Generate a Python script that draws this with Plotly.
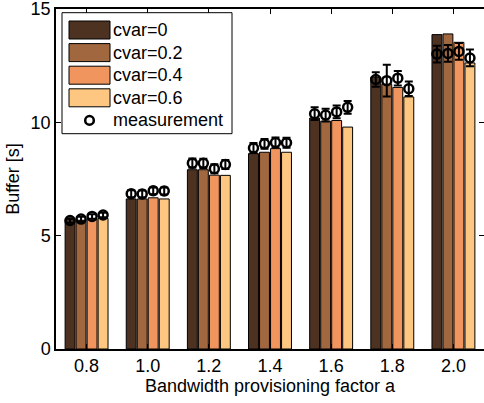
import plotly.graph_objects as go

categories = ["0.8", "1.0", "1.2", "1.4", "1.6", "1.8", "2.0"]
series_names = ["cvar=0", "cvar=0.2", "cvar=0.4", "cvar=0.6"]

model_cvar0 = [5.72, 6.62, 7.91, 8.62, 10.19, 12.00, 13.87]
model_cvar02 = [5.68, 6.62, 7.91, 8.68, 10.05, 11.68, 13.90]
model_cvar04 = [5.74, 6.67, 7.67, 8.84, 10.08, 11.54, 13.53]
model_cvar06 = [5.76, 6.62, 7.66, 8.68, 9.79, 11.12, 12.62]

meas_cvar0 = [5.67, 6.85, 8.20, 8.87, 10.38, 11.89, 13.01]
meas_cvar02 = [5.73, 6.84, 8.19, 9.05, 10.32, 11.84, 13.04]
meas_cvar04 = [5.85, 6.98, 7.95, 9.11, 10.46, 11.95, 13.13]
meas_cvar06 = [5.91, 6.97, 8.14, 9.10, 10.66, 11.48, 12.84]

err_cvar0 = [0.10, 0.15, 0.20, 0.22, 0.28, 0.32, 0.37]
err_cvar02 = [0.10, 0.15, 0.20, 0.22, 0.28, 0.70, 0.37]
err_cvar04 = [0.10, 0.15, 0.20, 0.22, 0.28, 0.32, 0.37]
err_cvar06 = [0.10, 0.15, 0.20, 0.22, 0.28, 0.32, 0.37]

colors = ["#4d3222", "#a1673f", "#f0955e", "#fec781"]

models = [model_cvar0, model_cvar02, model_cvar04, model_cvar06]
meas = [meas_cvar0, meas_cvar02, meas_cvar04, meas_cvar06]
errs = [err_cvar0, err_cvar02, err_cvar04, err_cvar06]

FONT = "Liberation Sans, Arial, Helvetica, sans-serif"

fig = go.Figure()
for i, name in enumerate(series_names):
    fig.add_trace(go.Bar(
        x=categories, y=models[i], name=name, offsetgroup=str(i),
        marker=dict(color=colors[i], line=dict(color="black", width=1)),
        showlegend=False,
    ))
for i, name in enumerate(series_names):
    fig.add_trace(go.Scatter(
        x=categories, y=meas[i], mode="markers", offsetgroup=str(i),
        marker=dict(symbol="circle-open", size=9, color="black",
                    line=dict(color="black", width=2.5)),
        error_y=dict(type="data", array=errs[i], visible=True,
                     color="black", thickness=2, width=4),
        showlegend=False, name="measurement", cliponaxis=False,
    ))

# plot-area geometry (pixels) used to place the hand-drawn legend
L, R, T, B = 56, 484, 9.3, 349.3
def dx(px):
    return (px - L) / (R - L)
def dy(py):
    return (B - py) / (B - T)

shapes = [dict(type="rect", xref="x domain", yref="y domain",
               x0=dx(62), x1=dx(232), y0=dy(134), y1=dy(13),
               line=dict(color="black", width=1), fillcolor="white", layer="above")]
annotations = []
row0, step = 30.3, 22.6
for i, name in enumerate(series_names):
    cy = row0 + step * i
    shapes.append(dict(type="rect", xref="x domain", yref="y domain",
                       x0=dx(69), x1=dx(110), y0=dy(cy + 9), y1=dy(cy - 9),
                       line=dict(color="black", width=1), fillcolor=colors[i], layer="above"))
    annotations.append(dict(xref="x domain", yref="y domain", x=dx(111), y=dy(cy),
                            text=name, showarrow=False, xanchor="left", yanchor="middle",
                            font=dict(size=18, color="black", family=FONT)))
cy = row0 + step * 4
shapes.append(dict(type="circle", xref="x domain", yref="y domain",
                   x0=dx(89.5 - 4.3), x1=dx(89.5 + 4.3), y0=dy(cy + 4.3), y1=dy(cy - 4.3),
                   line=dict(color="black", width=2.5), layer="above"))
annotations.append(dict(xref="x domain", yref="y domain", x=dx(111), y=dy(cy),
                        text="measurement", showarrow=False, xanchor="left", yanchor="middle",
                        font=dict(size=18, color="black", family=FONT)))

fig.update_layout(
    width=484, height=403,
    margin=dict(l=L, r=0, t=9, b=54, autoexpand=False),
    paper_bgcolor="white", plot_bgcolor="white",
    barmode="group", bargap=0.28, bargroupgap=0.1,
    scattermode="group",
    font=dict(family=FONT, size=18, color="black"),
    shapes=shapes, annotations=annotations,
    showlegend=False,
)
fig.update_xaxes(
    type="category", showline=True, linecolor="black", linewidth=1.5,
    mirror="ticks", ticks="inside", ticklen=5, tickcolor="black",
    showgrid=False, tickfont=dict(size=18), automargin=False,
    title=dict(text="Bandwidth provisioning factor a", font=dict(size=18), standoff=2),
)
fig.update_yaxes(
    range=[0, 15], tickvals=[0, 5, 10, 15], showline=True, linecolor="black",
    linewidth=1.5, mirror="ticks", ticks="inside", ticklen=5, tickcolor="black",
    showgrid=False, zeroline=False, tickfont=dict(size=18), automargin=False,
    ticklabeloverflow="allow",
    title=dict(text="Buffer [s]", font=dict(size=18), standoff=6),
)

fig.write_html("out.html", config={"displayModeBar": False},
               post_script="document.body.style.margin='0';")
